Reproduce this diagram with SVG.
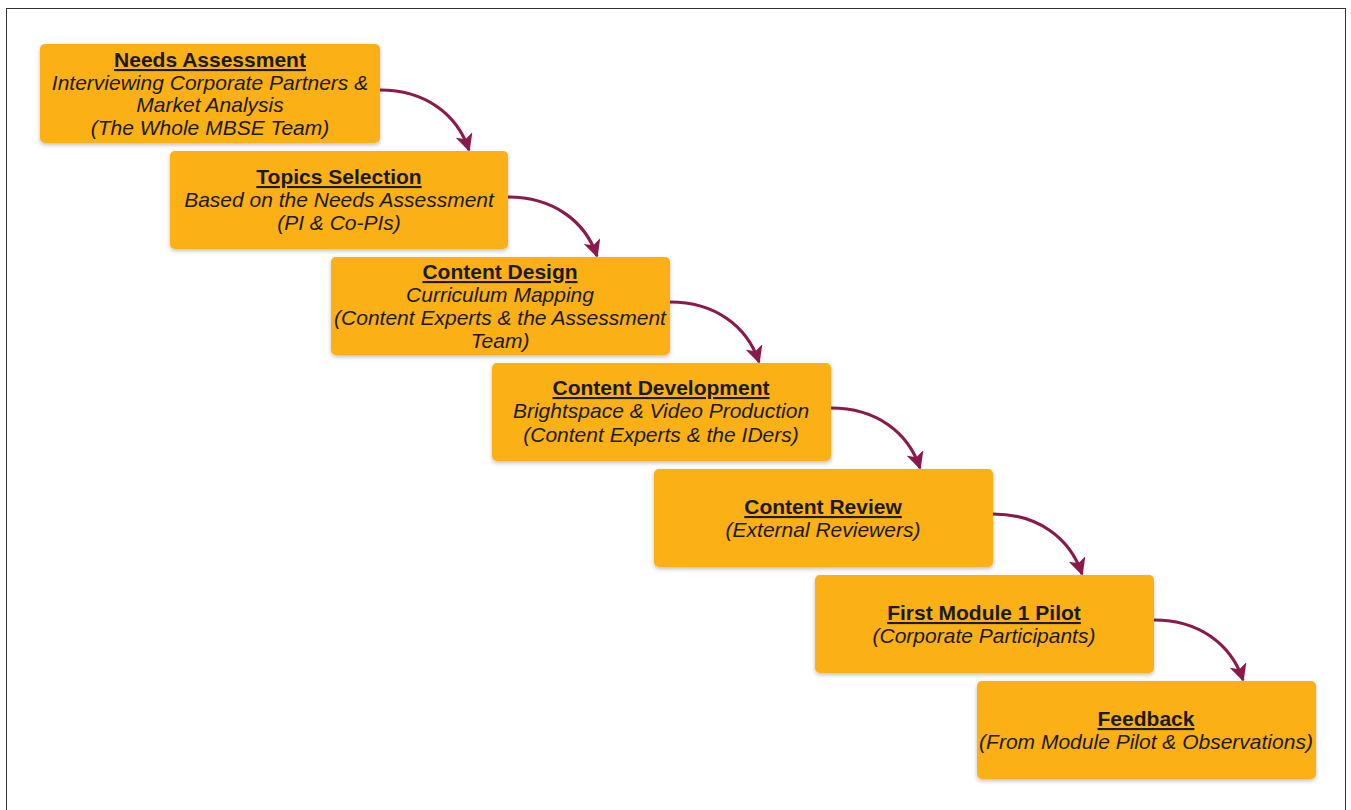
<svg xmlns="http://www.w3.org/2000/svg" width="1351" height="810" viewBox="0 0 1351 810">
  <defs>
    <filter id="shadow" x="-5%" y="-10%" width="110%" height="130%">
      <feDropShadow dx="0" dy="2" stdDeviation="2" flood-color="#000" flood-opacity="0.25"/>
    </filter>
    <!-- notched arrowhead for the step connectors -->
    <marker id="head" viewBox="0 0 10 10" refX="9" refY="5" markerWidth="5.5" markerHeight="5.5" orient="auto" markerUnits="strokeWidth">
      <path d="M0,0 L10,5 L0,10 L2.5,5 Z" fill="#8a1a4c"/>
    </marker>
  </defs>
  <style>
    .box { fill: #fbb012; filter: url(#shadow); }
    .title { font-family: "Liberation Sans", Arial, sans-serif; font-size: 21px; font-weight: bold; text-decoration: underline; fill: #1a1a1a; text-anchor: middle; }
    .sub { font-family: "Liberation Sans", Arial, sans-serif; font-size: 21px; font-style: italic; fill: #1a1a1a; text-anchor: middle; }
    .link { fill: none; stroke: #8a1a4c; stroke-width: 3.2; marker-end: url(#head); }
  </style>

  <rect x="0" y="0" width="1351" height="810" fill="#ffffff"/>
  <rect x="6.5" y="8.5" width="1339" height="820" fill="none" stroke="#333" stroke-width="1"/>

  <g id="connectors">
    <path class="link" d="M380,90 C425,90 457,114 469,150"/>
    <path class="link" d="M508,197 C553,197 585,221 597,256"/>
    <path class="link" d="M670,302 C715,302 747,326 759,362"/>
    <path class="link" d="M831,408 C876,408 908,432 920,468"/>
    <path class="link" d="M993,514 C1038,514 1070,538 1082,574"/>
    <path class="link" d="M1154,620 C1199,620 1231,644 1243,680"/>
  </g>

  <g id="node-needs">
    <rect class="box" x="40" y="44" width="340" height="99" rx="5"/>
    <text class="title" x="210" y="67">Needs Assessment</text>
    <text class="sub" x="210" y="90">Interviewing Corporate Partners &amp;</text>
    <text class="sub" x="210" y="112">Market Analysis</text>
    <text class="sub" x="210" y="135">(The Whole MBSE Team)</text>
  </g>

  <g id="node-topics">
    <rect class="box" x="170" y="151" width="338" height="98" rx="5"/>
    <text class="title" x="339" y="184">Topics Selection</text>
    <text class="sub" x="339" y="207">Based on the Needs Assessment</text>
    <text class="sub" x="339" y="230">(PI &amp; Co-PIs)</text>
  </g>

  <g id="node-design">
    <rect class="box" x="331" y="257" width="339" height="98" rx="5"/>
    <text class="title" x="500" y="279">Content Design</text>
    <text class="sub" x="500" y="302">Curriculum Mapping</text>
    <text class="sub" x="500" y="325">(Content Experts &amp; the Assessment</text>
    <text class="sub" x="500" y="348">Team)</text>
  </g>

  <g id="node-development">
    <rect class="box" x="492" y="363" width="339" height="98" rx="5"/>
    <text class="title" x="661" y="395">Content Development</text>
    <text class="sub" x="661" y="418">Brightspace &amp; Video Production</text>
    <text class="sub" x="661" y="442">(Content Experts &amp; the IDers)</text>
  </g>

  <g id="node-review">
    <rect class="box" x="654" y="469" width="339" height="98" rx="5"/>
    <text class="title" x="823" y="514">Content Review</text>
    <text class="sub" x="823" y="537">(External Reviewers)</text>
  </g>

  <g id="node-pilot">
    <rect class="box" x="815" y="575" width="339" height="98" rx="5"/>
    <text class="title" x="984" y="620">First Module 1 Pilot</text>
    <text class="sub" x="984" y="643">(Corporate Participants)</text>
  </g>

  <g id="node-feedback">
    <rect class="box" x="977" y="681" width="339" height="98" rx="5"/>
    <text class="title" x="1146" y="726">Feedback</text>
    <text class="sub" x="1146" y="749">(From Module Pilot &amp; Observations)</text>
  </g>
</svg>
